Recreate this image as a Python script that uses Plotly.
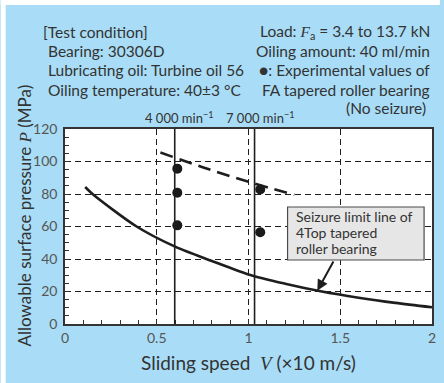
import plotly.graph_objects as go

# ---- data ----
curve_v = [0.11, 0.15, 0.39, 0.60, 0.80, 1.00, 1.20, 1.40, 1.60, 1.80, 2.00]
curve_p = [84.3, 80.0, 60.0, 47.6, 38.8, 30.5, 24.8, 20.0, 16.2, 13.0, 10.3]

fa_v = [0.52, 0.75, 1.00, 1.25]
fa_p = [105.5, 96.5, 87.5, 79.5]

exp_v = [0.612, 0.612, 0.612, 1.064, 1.064]
exp_p = [95.6, 80.8, 60.7, 82.8, 56.5]

speed_lines_v = [0.598, 1.033]
speed_labels = ["4 000 min<sup>−1</sup>", "7 000 min<sup>−1</sup>"]

x_ticks = [0, 0.5, 1, 1.5, 2]
x_ticklabels = ["0", "0.5", "1", "1.5", "2"]
y_ticks = [0, 20, 40, 60, 80, 100, 120]

arrow_tip = (1.375, 20.5)

# ---- layout geometry (pixels) ----
WID, HEI = 444, 383
L, R, T, B = 65, 436, 129, 324
PW, PH = R - L, B - T


def px(x):
    return (x - L) / PW


def py(y):
    return (B - y) / PH


BLUE = "#a9ddf7"
TXT = "#333333"
TICK = "#555555"
SERIF = "Liberation Serif"
FONT = "Lato"


def it(s):
    return f"<span style=\"font-family:'{SERIF}'\"><i>{s}</i></span>"


fig = go.Figure()

# seizure limit curve
fig.add_trace(go.Scatter(x=curve_v, y=curve_p, mode="lines",
                         line=dict(color="#1e1e1e", width=2.6, shape="spline", smoothing=0.8),
                         hoverinfo="skip", showlegend=False))
# FA dashed line
fig.add_trace(go.Scatter(x=fa_v, y=fa_p, mode="lines",
                         line=dict(color="#1e1e1e", width=2.6, dash="13px,7px", shape="spline"),
                         hoverinfo="skip", showlegend=False))
# experimental points
fig.add_trace(go.Scatter(x=exp_v, y=exp_p, mode="markers",
                         marker=dict(color="#1a1a1a", size=10),
                         hoverinfo="skip", showlegend=False, cliponaxis=False))

shapes = []
# white strips at the top and left edges
shapes.append(dict(type="rect", xref="paper", yref="paper", layer="below",
                   x0=px(0), x1=px(WID), y0=py(0), y1=py(5),
                   fillcolor="white", line=dict(width=0)))
shapes.append(dict(type="rect", xref="paper", yref="paper", layer="below",
                   x0=px(0), x1=px(5), y0=py(HEI), y1=py(0),
                   fillcolor="white", line=dict(width=0)))

# speed lines
for i, v in enumerate(speed_lines_v):
    shapes.append(dict(type="line", xref="x", yref="y", x0=v, x1=v, y0=0,
                       y1=122.5 if i == 0 else 120,
                       line=dict(color="#1e1e1e", width=1.6)))

# label box
bx0, bx1, by0, by1 = 290, 428, 207, 260
shapes.append(dict(type="rect", xref="paper", yref="paper",
                   x0=px(bx0), x1=px(bx1), y0=py(by1), y1=py(by0),
                   fillcolor="#e6e6e6", line=dict(color="#4a4a4a", width=1.2)))

ann = []


def text(s, x, y, xanchor="left", size=15.5, color=TXT, **kw):
    ann.append(dict(text=s, x=px(x), y=py(y), xref="paper", yref="paper",
                    xanchor=xanchor, yanchor="middle", showarrow=False,
                    font=dict(size=size, color=color, family=FONT), **kw))


# left condition block
text("[Test condition]", 40.5, 32)
text("Bearing: 30306D", 45.5, 51)
text("Lubricating oil: Turbine oil 56", 45.5, 70)
text("Oiling temperature: 40±3 °C", 45.5, 89.5)
# right block
text("Load: " + it("F") + "<sub>a</sub> = 3.4 to 13.7 kN", 435.5, 32, xanchor="right")
text("Oiling amount: 40 ml/min", 435.5, 51, xanchor="right")
text("●: Experimental values of", 435.5, 70, xanchor="right")
text("FA tapered roller bearing", 435.5, 89.5, xanchor="right")
text("(No seizure)", 432, 108.5, xanchor="right")

# speed labels
text(speed_labels[0], 180, 117, xanchor="center", size=13)
text(speed_labels[1], 262, 117, xanchor="center", size=13)

# box text
text("Seizure limit line of", 296, 216.5, size=14)
text("4Top tapered", 296, 232.5, size=14)
text("roller bearing", 296, 248.5, size=14)

# arrow
tipx = L + arrow_tip[0] / 2 * PW
tipy = B - arrow_tip[1] / 120 * PH
ann.append(dict(x=arrow_tip[0], y=arrow_tip[1], xref="x", yref="y", text="",
                showarrow=True, ax=337 - tipx, ay=260 - tipy,
                arrowhead=2, arrowsize=1.1, arrowwidth=2, arrowcolor="#1e1e1e"))

# axis titles
text("Allowable surface pressure " + it("P") + " (MPa)", 24, 215, xanchor="center",
     size=17, textangle=-90)
text("Sliding speed  " + it("V") + " (×10 m/s)", 251, 362, xanchor="center", size=19)

fig.update_layout(
    width=WID, height=HEI,
    margin=dict(l=L, r=WID - R, t=T, b=HEI - B, pad=0),
    paper_bgcolor=BLUE, plot_bgcolor="white",
    shapes=shapes, annotations=ann,
    font=dict(family=FONT, color=TICK, size=14),
    showlegend=False,
)

common = dict(showline=True, linecolor="#333333", linewidth=1.6, mirror=True,
              showgrid=True, gridcolor="#1e1e1e", gridwidth=1, griddash="6px,4px",
              ticks="inside", ticklen=4, tickcolor="#333333", tickwidth=1,
              zeroline=False, tickfont=dict(size=14, color=TICK, family=FONT))

fig.update_xaxes(range=[0, 2], tickvals=x_ticks, ticktext=x_ticklabels,
                 minor=dict(dtick=0.1, ticks="inside", ticklen=4, tickcolor="#333333", showgrid=False),
                 ticklabelstandoff=0, **common)
fig.update_yaxes(range=[0, 120], tickvals=y_ticks,
                 minor=dict(dtick=5, ticks="inside", ticklen=4, tickcolor="#333333", showgrid=False),
                 ticklabelstandoff=3, **common)

fig.write_html("out.html", config={"displayModeBar": False},
               post_script="document.body.style.margin='0px';")
